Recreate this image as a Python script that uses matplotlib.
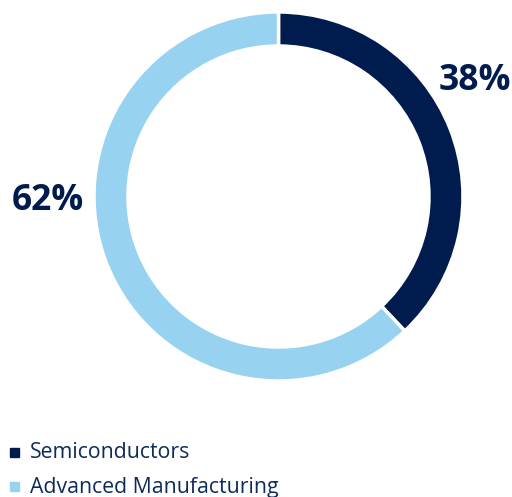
import matplotlib.pyplot as plt
from matplotlib.patches import Rectangle

# Share of each segment
labels = ['Semiconductors', 'Advanced Manufacturing']
shares = [38, 62]
colors = ['#001c4e', '#97d2f1']
pct_text = ['38%', '62%']

plt.rcParams['font.family'] = ['Open Sans', 'DejaVu Sans']

fig = plt.figure(figsize=(5.12, 4.97), dpi=100)
ax = fig.add_axes([0, 0, 1, 1])

# Donut drawn in pixel-like coordinates (y measured from the bottom)
ax.pie(shares, colors=colors, radius=184.5, center=(278.5, 300.5),
       startangle=90, counterclock=False,
       wedgeprops=dict(width=34, edgecolor='white', linewidth=2.5),
       frame=True)
ax.set_xlim(0, 512)
ax.set_ylim(0, 497)
ax.set_aspect('equal')
ax.axis('off')

ax.text(475, 416, pct_text[0], fontsize=25.5, fontweight='bold',
        color='#001c4e', ha='center', va='center')
ax.text(48, 296, pct_text[1], fontsize=25.5, fontweight='bold',
        color='#001c4e', ha='center', va='center')

# Legend
for i, (lab, col) in enumerate(zip(labels, colors)):
    y = 497 - (452 + i * 34)
    ax.add_patch(Rectangle((10, y - 4.5), 9, 9, color=col))
    ax.text(30, y - 1, lab, fontsize=15.3, color='#0d2a58', ha='left', va='center')

fig.savefig('out.png', dpi=100)
